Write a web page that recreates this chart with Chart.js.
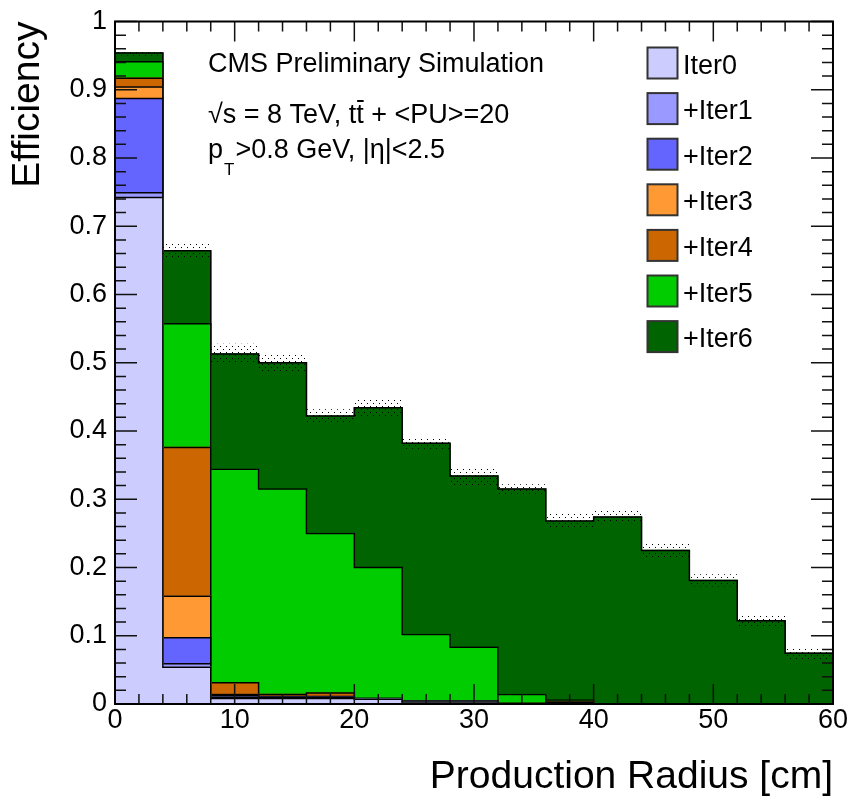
<!DOCTYPE html>
<html>
<head>
<meta charset="utf-8">
<script src="https://cdn.jsdelivr.net/npm/chart.js@4.4.1/dist/chart.umd.min.js"></script>
<style>
html, body { margin: 0; padding: 0; background: #fff; }
canvas { display: block; }
</style>
</head>
<body>
<canvas id="c" width="851" height="801"></canvas>
<script>
// ---- data (cumulative efficiency after each iteration, per 4 cm bin) ----
const binEdges = [0, 4, 8, 12, 16, 20, 24, 28, 32, 36, 40, 44, 48, 52, 56, 60];
const iter0 = [0.742, 0.054, 0.008, 0.008, 0.008, 0.007, 0.003, 0.003, 0.000, 0.002, 0, 0, 0, 0, 0];
const iter1 = [0.749, 0.059, 0.010, 0.009, 0.009, 0.007, 0.003, 0.003, 0.000, 0.002, 0, 0, 0, 0, 0];
const iter2 = [0.887, 0.097, 0.012, 0.010, 0.010, 0.007, 0.004, 0.004, 0.000, 0.002, 0, 0, 0, 0, 0];
const iter3 = [0.904, 0.158, 0.014, 0.011, 0.011, 0.008, 0.004, 0.004, 0.000, 0.003, 0, 0, 0, 0, 0];
const iter4 = [0.917, 0.376, 0.031, 0.014, 0.016, 0.008, 0.004, 0.004, 0.001, 0.003, 0, 0, 0, 0, 0];
const iter5 = [0.941, 0.557, 0.344, 0.315, 0.250, 0.200, 0.102, 0.083, 0.014, 0.006, 0, 0, 0, 0, 0];
const iter6 = [0.954, 0.664, 0.513, 0.500, 0.422, 0.434, 0.382, 0.334, 0.315, 0.268, 0.274, 0.225, 0.181, 0.122, 0.0745];
const totalError = [0.004, 0.010, 0.015, 0.014, 0.010, 0.012, 0.008, 0.013, 0.007, 0.011, 0.009, 0.011, 0.009, 0.009, 0.0085];
const seriesLabels = ['Iter0', '+Iter1', '+Iter2', '+Iter3', '+Iter4', '+Iter5', '+Iter6'];
const xTicks = [0, 10, 20, 30, 40, 50, 60];
const yTicks = [0, 0.1, 0.2, 0.3, 0.4, 0.5, 0.6, 0.7, 0.8, 0.9, 1];
const xTitle = 'Production Radius [cm]';
const yTitle = 'Efficiency';
const infoLines = ['CMS Preliminary Simulation', '\u221As = 8 TeV, tt + <PU>=20', 'p', 'T', '>0.8 GeV, |\u03B7|<2.5'];

// ---- styles ----
const FONT = "'Liberation Sans', Arial, Helvetica, sans-serif";
const seriesColors = ['#ccccff', '#9999ff', '#6464ff', '#ff9933', '#cc6600', '#00cc00', '#006400'];
Chart.defaults.font.family = FONT;
Chart.defaults.color = '#000';

const canvas = document.getElementById('c');
const mainCtx = canvas.getContext('2d');

function makeDotPattern() {
  const c = document.createElement('canvas');
  c.width = 6; c.height = 6;
  const g = c.getContext('2d');
  g.fillStyle = '#000';
  g.fillRect(1, 1, 1, 1);
  g.fillRect(4, 4, 1, 1);
  return mainCtx.createPattern(c, 'repeat');
}

const binCenters = binEdges.slice(0, -1).map((e, i) => (e + binEdges[i + 1]) / 2);
const allSeries = [iter0, iter1, iter2, iter3, iter4, iter5, iter6];
const datasets = [];
allSeries.forEach((vals, k) => {
  datasets.push({
    type: 'bar',
    label: seriesLabels[k],
    data: binCenters.map((x, i) => ({ x: x, y: vals[i] })),
    backgroundColor: seriesColors[k],
    borderWidth: 0,
    inflateAmount: 0.6,
    grouped: false,
    barPercentage: 1,
    categoryPercentage: 1,
    order: 2 * k + 2
  });
  // histogram outline: horizontal at each bin value, vertical steps at bin edges
  const outline = binEdges.map((e, i) => ({ x: e, y: vals[Math.max(i - 1, 0)] }));
  datasets.push({
    type: 'line',
    label: seriesLabels[k] + ' outline',
    data: outline,
    stepped: 'after',
    borderColor: '#000',
    borderWidth: 1.5,
    pointRadius: 0,
    fill: false,
    order: 2 * k + 1
  });
});
datasets.push({
  type: 'bar',
  label: 'stat. unc.',
  data: binCenters.map((x, i) => ({ x: x, y: [iter6[i] - totalError[i], iter6[i] + totalError[i]] })),
  backgroundColor: makeDotPattern(),
  borderWidth: 0,
  inflateAmount: 0,
  grouped: false,
  barPercentage: 1,
  categoryPercentage: 1,
  order: 0
});

const rootStyle = {
  id: 'rootStyle',
  afterDatasetsDraw(chart) {
    const { ctx, chartArea: a, scales: { x, y } } = chart;
    ctx.save();
    ctx.strokeStyle = '#111';
    ctx.lineWidth = 1.5;
    ctx.beginPath();
    const xv = x.ticks.map(t => t.value);
    for (let i = 0; i < xv.length; i++) {
      const p = x.getPixelForValue(xv[i]);
      ctx.moveTo(p, a.bottom); ctx.lineTo(p, a.bottom - 20);
      ctx.moveTo(p, a.top); ctx.lineTo(p, a.top + 20);
      if (i < xv.length - 1) {
        for (let k = 1; k < 5; k++) {
          const q = x.getPixelForValue(xv[i] + (xv[i + 1] - xv[i]) * k / 5);
          ctx.moveTo(q, a.bottom); ctx.lineTo(q, a.bottom - 10);
          ctx.moveTo(q, a.top); ctx.lineTo(q, a.top + 10);
        }
      }
    }
    const yv = y.ticks.map(t => t.value);
    for (let i = 0; i < yv.length; i++) {
      const p = y.getPixelForValue(yv[i]);
      ctx.moveTo(a.left, p); ctx.lineTo(a.left + 22, p);
      ctx.moveTo(a.right, p); ctx.lineTo(a.right - 22, p);
      if (i < yv.length - 1) {
        for (let k = 1; k < 5; k++) {
          const q = y.getPixelForValue(yv[i] + (yv[i + 1] - yv[i]) * k / 5);
          ctx.moveTo(a.left, q); ctx.lineTo(a.left + 11, q);
          ctx.moveTo(a.right, q); ctx.lineTo(a.right - 11, q);
        }
      }
    }
    ctx.stroke();
    ctx.lineWidth = 2;
    ctx.strokeStyle = '#000';
    ctx.strokeRect(a.left, a.top, a.right - a.left, a.bottom - a.top);
    ctx.restore();
  },
  afterDraw(chart) {
    const ctx = chart.ctx;
    ctx.save();
    ctx.fillStyle = '#000';
    ctx.textBaseline = 'alphabetic';
    ctx.textAlign = 'left';
    ctx.font = '27px ' + FONT;
    const tx = 208;
    ctx.fillText(infoLines[0], tx, 72);
    ctx.fillText(infoLines[1], tx, 123);
    // bar over the second t of "tt"
    const pre = infoLines[1].slice(0, infoLines[1].indexOf('tt') + 1);
    const bx = tx + ctx.measureText(pre).width;
    const bw = ctx.measureText('t').width;
    ctx.fillRect(bx + 1, 100, bw - 1, 2);
    // p_T line
    ctx.fillText(infoLines[2], tx, 158);
    let cx = tx + ctx.measureText(infoLines[2]).width + 1;
    ctx.font = '17px ' + FONT;
    ctx.fillText(infoLines[3], cx, 175);
    cx += ctx.measureText(infoLines[3]).width + 1;
    ctx.font = '27px ' + FONT;
    ctx.fillText(infoLines[4], cx, 158);

    // legend
    for (let k = 0; k < seriesLabels.length; k++) {
      const top = 47.5 + k * 45.6;
      ctx.fillStyle = seriesColors[k];
      ctx.fillRect(647.5, top, 30, 31);
      ctx.strokeStyle = '#333';
      ctx.lineWidth = 2;
      ctx.strokeRect(647.5, top, 30, 31);
      ctx.fillStyle = '#000';
      ctx.font = '27px ' + FONT;
      ctx.fillText(seriesLabels[k], 683, top + 26);
    }
    ctx.restore();
  }
};

new Chart(canvas, {
  data: { datasets: datasets },
  options: {
    responsive: false,
    animation: false,
    devicePixelRatio: 1,
    layout: { padding: { top: 15, right: 18, left: 0, bottom: 0 } },
    plugins: {
      legend: { display: false },
      tooltip: { enabled: false }
    },
    scales: {
      x: {
        type: 'linear',
        position: 'bottom',
        offset: false,
        min: 0,
        max: 60,
        afterBuildTicks: (s) => { s.ticks = xTicks.map(v => ({ value: v })); },
        afterFit: (s) => { s.height = 97; },
        ticks: {
          autoSkip: false,
          maxRotation: 0,
          padding: 3,
          color: '#000',
          font: { size: 27, lineHeight: 1 },
          callback: (v) => String(v)
        },
        grid: { display: false, drawTicks: false, drawOnChartArea: false, offset: false },
        border: { display: false },
        title: {
          display: true,
          text: xTitle,
          align: 'end',
          color: '#000',
          font: { size: 39 },
          padding: { top: 0, bottom: 0 }
        }
      },
      y: {
        type: 'linear',
        position: 'left',
        min: 0,
        max: 1,
        afterBuildTicks: (s) => { s.ticks = yTicks.map(v => ({ value: v })); },
        afterFit: (s) => { s.width = 115; },
        ticks: {
          autoSkip: false,
          padding: 8,
          color: '#000',
          font: { size: 27, lineHeight: 1 },
          callback: (v) => String(v)
        },
        grid: { display: false, drawTicks: false, drawOnChartArea: false },
        border: { display: false },
        title: {
          display: true,
          text: yTitle,
          align: 'end',
          color: '#000',
          font: { size: 39 },
          padding: { top: 5, bottom: 0 }
        }
      }
    }
  },
  plugins: [rootStyle]
});
</script>
</body>
</html>
